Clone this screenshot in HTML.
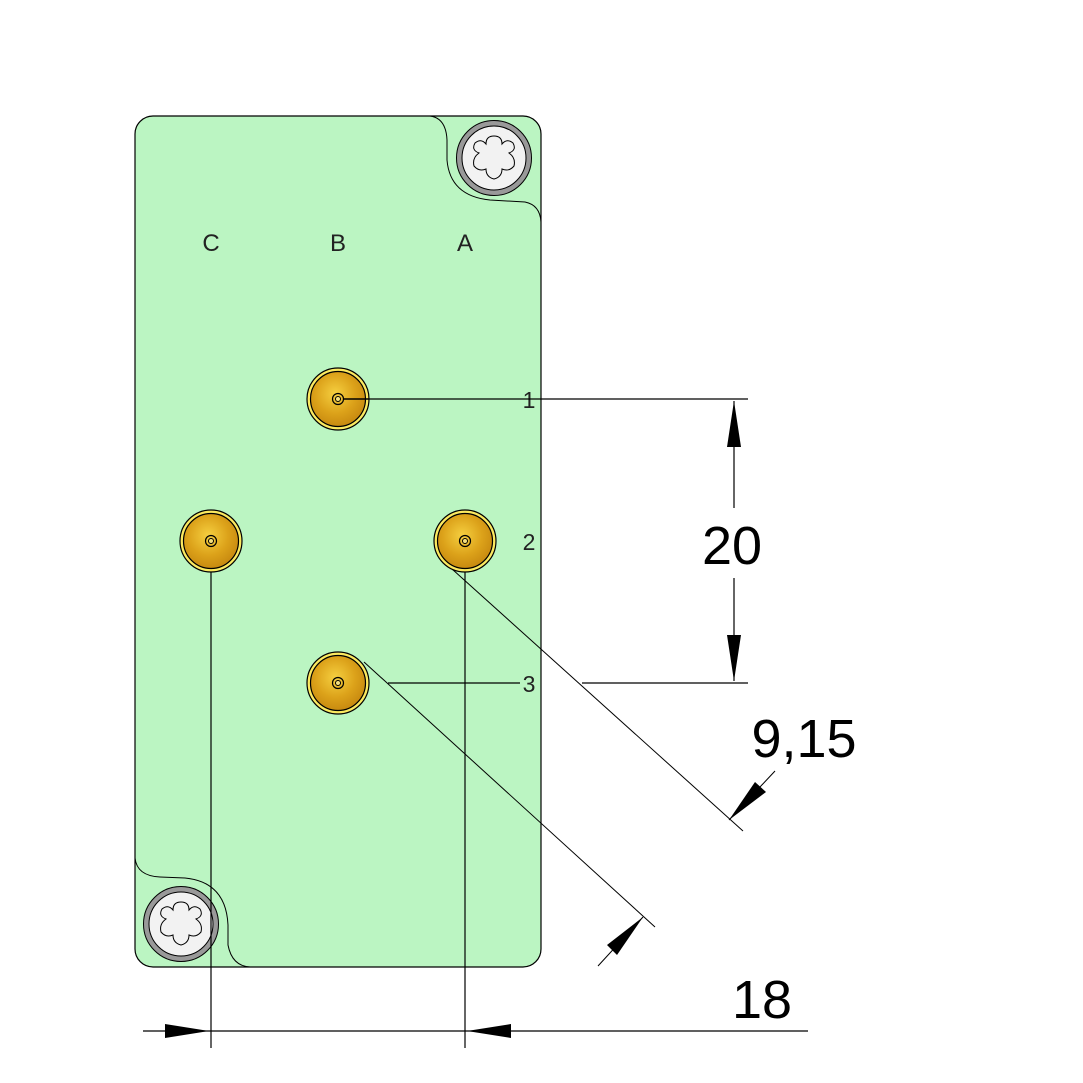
<!DOCTYPE html>
<html><head><style>html,body{margin:0;padding:0;background:#fff}svg{display:block}</style></head><body>
<svg width="1083" height="1083" viewBox="0 0 1083 1083" xmlns="http://www.w3.org/2000/svg">
<defs>
<radialGradient id="g" cx="0.45" cy="0.4" r="0.6">
<stop offset="0" stop-color="#f5cf40"/><stop offset="0.6" stop-color="#dca21a"/><stop offset="1" stop-color="#c88a10"/></radialGradient>
<g id="con">
<circle r="31" fill="#fbe960" stroke="#000" stroke-width="1.2"/>
<circle r="27.5" fill="url(#g)" stroke="#000" stroke-width="1.2"/>
<circle r="5.5" fill="none" stroke="#000" stroke-width="1.2"/>
<circle r="2.5" fill="#f5e080" stroke="#000" stroke-width="1"/>
</g>
<g id="scr">
<circle r="37.5" fill="#999" stroke="#000" stroke-width="1"/>
<circle r="32" fill="#f2f2f2" stroke="#000" stroke-width="1"/>
<path d="M0,-24 Q8,-24 8,-16 Q13,-22 19,-17 Q23,-10 15,-7 Q22,-2 20,6 Q15,12 8,9 Q8,17 0,19 Q-8,17 -8,9 Q-15,12 -20,6 Q-22,-2 -15,-7 Q-23,-10 -19,-17 Q-13,-22 -8,-16 Q-8,-24 0,-24Z" fill="#f2f2f2" stroke="#000" stroke-width="1" transform="translate(0,2)"/>
</g>
</defs>
<rect x="135" y="116" width="406" height="851" rx="18" fill="#bbf5c2" stroke="#000" stroke-width="1.2"/>
<path d="M430 116 Q446 118 447 140 L447 160 Q450 196 490 200 L525 202 Q540 205 541 222" fill="none" stroke="#000" stroke-width="1"/>
<path d="M135 858 Q137 876 160 877 L185 878 Q226 882 228 925 L228 945 Q232 966 250 967" fill="none" stroke="#000" stroke-width="1"/>
<use href="#scr" x="494" y="158"/>
<use href="#scr" x="181" y="924"/>
<g font-family="Liberation Sans, sans-serif" fill="#222" text-anchor="middle">
<text x="211" y="251" font-size="24">C</text>
<text x="338" y="251" font-size="24">B</text>
<text x="465" y="251" font-size="24">A</text>
<text x="529" y="408" font-size="23">1</text>
<text x="529" y="550" font-size="23">2</text>
<text x="529" y="692" font-size="23">3</text>
</g>
<g stroke="#000" fill="none">
<line x1="338" y1="399" x2="748" y2="399" stroke-width="1.2"/>
<line x1="388" y1="683" x2="520" y2="683" stroke-width="1.2"/>
<line x1="582" y1="683" x2="748" y2="683" stroke-width="1.2"/>
<line x1="734" y1="401" x2="734" y2="508" stroke-width="1.2"/>
<line x1="734" y1="578" x2="734" y2="681" stroke-width="1.2"/>
<line x1="211" y1="548" x2="211" y2="1048" stroke-width="1.2"/>
<line x1="465" y1="548" x2="465" y2="1048" stroke-width="1.2"/>
<line x1="143" y1="1031" x2="808" y2="1031" stroke-width="1.2"/>
<line x1="452" y1="569" x2="743" y2="831" stroke-width="1"/>
<line x1="364" y1="662" x2="655" y2="927" stroke-width="1"/>
<line x1="729" y1="820" x2="775" y2="771" stroke-width="1"/>
<line x1="643" y1="917" x2="598" y2="966" stroke-width="1"/>
</g>
<g fill="#000">
<polygon points="734,401 727,447 741,447"/>
<polygon points="734,681 727,635 741,635"/>
<polygon points="209,1031 165,1024 165,1038"/>
<polygon points="467,1031 511,1024 511,1038"/>
<polygon points="729,820 755,782 766,792"/>
<polygon points="643,917 617,955 607,945"/>
</g>
<g font-family="Liberation Sans, DejaVu Sans, sans-serif" fill="#000" font-size="54" text-anchor="middle">
<text x="732" y="564">20</text>
<text x="804" y="757">9,15</text>
<text x="762" y="1018">18</text>
</g>
<use href="#con" x="338" y="399"/>
<use href="#con" x="211" y="541"/>
<use href="#con" x="465" y="541"/>
<use href="#con" x="338" y="683"/>
<line x1="343" y1="399" x2="369" y2="399" stroke="#000" stroke-width="1.5"/>
</svg>
</body></html>
